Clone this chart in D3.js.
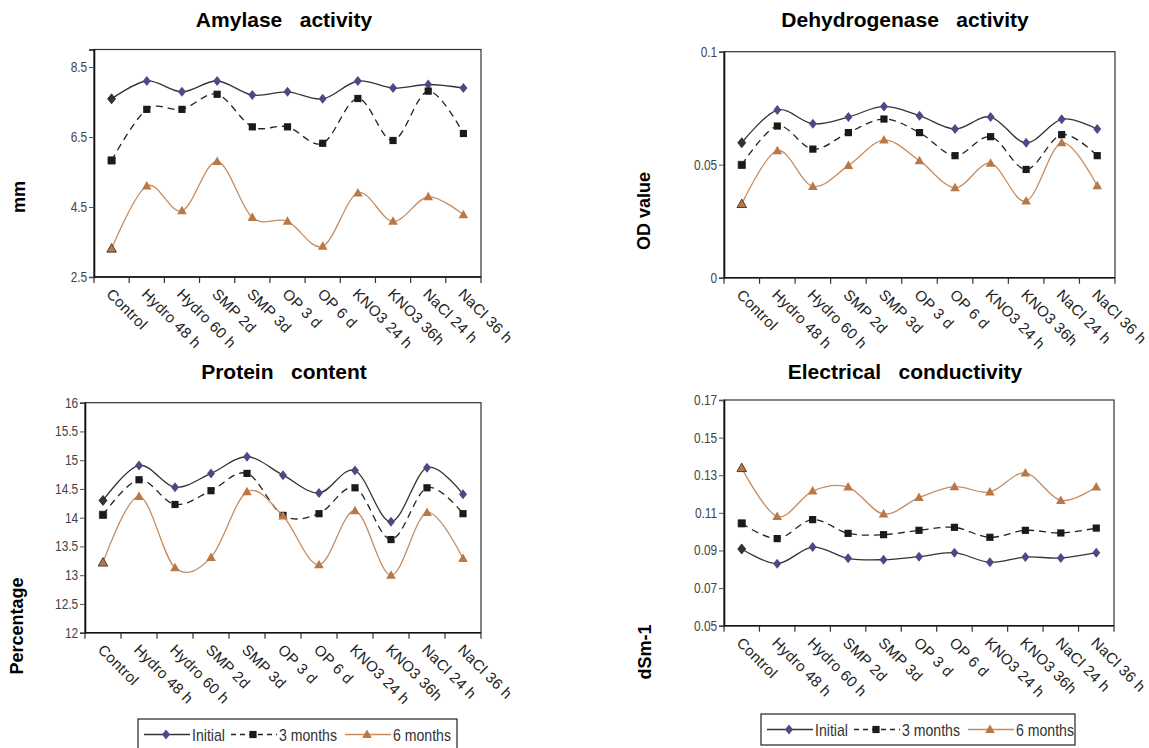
<!DOCTYPE html>
<html>
<head>
<meta charset="utf-8">
<script src="https://cdn.jsdelivr.net/npm/d3@7"></script>
<style>
body { margin: 0; background: #fff; }
text { font-family: Arial, "Liberation Sans", sans-serif; }
.tick-label { font-size: 14px; fill: #444; }
.legend-label { font-size: 17px; fill: #333; }
</style>
</head>
<body>
<script>
var categories = ["Control", "Hydro 48 h", "Hydro 60 h", "SMP 2d", "SMP 3d", "OP 3 d", "OP 6 d", "KNO3 24 h", "KNO3 36h", "NaCl 24 h", "NaCl 36 h"];
var seriesNames = ["Initial", "3 months", "6 months"];

// amylase activity (mm)
var amylaseInitial = [7.59, 8.1, 7.79, 8.1, 7.7, 7.79, 7.59, 8.1, 7.9, 8.0, 7.9];
var amylase3m = [5.83, 7.29, 7.29, 7.72, 6.79, 6.79, 6.32, 7.6, 6.4, 7.81, 6.6];
var amylase6m = [3.31, 5.1, 4.39, 5.8, 4.2, 4.09, 3.38, 4.9, 4.09, 4.79, 4.28];
var amylaseTicks = [2.5, 4.5, 6.5, 8.5];

// dehydrogenase activity (OD value)
var dehydInitial = [0.0597, 0.0742, 0.0681, 0.0711, 0.0758, 0.0717, 0.0658, 0.0711, 0.0597, 0.0701, 0.0658];
var dehyd3m = [0.0499, 0.0671, 0.0569, 0.0642, 0.0702, 0.0642, 0.054, 0.0624, 0.0479, 0.0633, 0.054];
var dehyd6m = [0.0326, 0.0562, 0.0404, 0.0496, 0.0609, 0.0518, 0.0398, 0.0506, 0.0339, 0.0597, 0.0407];
var dehydTicks = [0, 0.05, 0.1];

// protein content (%)
var proteinInitial = [14.3, 14.91, 14.53, 14.77, 15.06, 14.74, 14.43, 14.82, 13.93, 14.87, 14.41];
var protein3m = [14.05, 14.66, 14.23, 14.47, 14.77, 14.04, 14.07, 14.52, 13.62, 14.52, 14.07];
var protein6m = [13.22, 14.37, 13.13, 13.31, 14.45, 14.03, 13.18, 14.12, 13.0, 14.09, 13.29];
var proteinTicks = [12, 12.5, 13, 13.5, 14, 14.5, 15, 15.5, 16];

// electrical conductivity (dSm-1)
var ecInitial = [0.0908, 0.083, 0.0918, 0.0858, 0.0851, 0.0867, 0.0888, 0.0837, 0.0865, 0.086, 0.0888];
var ec3m = [0.1044, 0.0963, 0.1064, 0.0991, 0.0984, 0.1007, 0.1023, 0.097, 0.1007, 0.0993, 0.1019];
var ec6m = [0.1338, 0.1081, 0.1216, 0.1237, 0.1094, 0.1181, 0.1239, 0.1211, 0.1312, 0.1166, 0.1237];
var ecTicks = [0.05, 0.07, 0.09, 0.11, 0.13, 0.15, 0.17];

var diamond = {
    draw: function(ctx, size) {
        ctx.moveTo(0, -5); ctx.lineTo(4, 0); ctx.lineTo(0, 5); ctx.lineTo(-4, 0); ctx.closePath();
    }
};
var square = {
    draw: function(ctx, size) {
        ctx.moveTo(-3.6, -3.6); ctx.lineTo(3.6, -3.6); ctx.lineTo(3.6, 3.6); ctx.lineTo(-3.6, 3.6); ctx.closePath();
    }
};
var triangle = {
    draw: function(ctx, size) {
        ctx.moveTo(0, -5); ctx.lineTo(4.8, 3.5); ctx.lineTo(-4.8, 3.5); ctx.closePath();
    }
};

var styles = [
    { line: "#333", dash: null, legendDash: null, shape: diamond, fill: "#4b4a86" },
    { line: "#222", dash: "7,5", legendDash: "5,4", shape: square, fill: "#1a1a1a" },
    { line: "#c48d62", dash: null, legendDash: null, shape: triangle, fill: "#b97845" }
];
// widths of the condensed legend labels
var legendTextWidths = [33, 58, 58];

var panels = [
    { title: "Amylase   activity", tx: 284, ty: 27, ylabel: "mm", lx: 25, ly: 197,
      box: [94, 49.5, 481, 277], domain: [2.5, 9], ticks: amylaseTicks, fmt: d3.format(".1f"),
      series: [amylaseInitial, amylase3m, amylase6m], legend: null },
    { title: "Dehydrogenase   activity", tx: 905, ty: 27, ylabel: "OD value", lx: 650, ly: 211,
      box: [724, 51.7, 1115, 277.7], domain: [0, 0.1], ticks: dehydTicks, fmt: function(d) { return d3.format("")(d); },
      series: [dehydInitial, dehyd3m, dehyd6m], legend: null },
    { title: "Protein   content", tx: 284, ty: 379, ylabel: "Percentage", lx: 23, ly: 626,
      box: [85, 402.7, 481, 632.7], domain: [12, 16], ticks: proteinTicks, fmt: function(d) { return d3.format("")(d); },
      series: [proteinInitial, protein3m, protein6m], legend: [138, 719, 319, 34] },
    { title: "Electrical   conductivity", tx: 905, ty: 379, ylabel: "dSm-1", lx: 651, ly: 652,
      box: [724, 400, 1114, 625.7], domain: [0.05, 0.17], ticks: ecTicks, fmt: d3.format(".2f"),
      series: [ecInitial, ec3m, ec6m], legend: [761, 714, 314, 31] }
];

var svg = d3.select("body")
    .append("svg")
    .attr("width", 1149)
    .attr("height", 748);

panels.forEach(function(p) {
    var left = p.box[0], top = p.box[1], right = p.box[2], bottom = p.box[3];

    var x = d3.scaleBand().domain(categories).range([left, right]);
    var y = d3.scaleLinear().domain(p.domain).range([bottom, top]);

    var g = svg.append("g");

    g.append("text")
        .attr("x", p.tx)
        .attr("y", p.ty)
        .attr("text-anchor", "middle")
        .style("font-size", "21px")
        .style("font-weight", "bold")
        .style("white-space", "pre")
        .attr("fill", "#000")
        .text(p.title);

    g.append("text")
        .attr("transform", "translate(" + p.lx + "," + p.ly + ") rotate(-90)")
        .attr("text-anchor", "middle")
        .style("font-size", "18px")
        .style("font-weight", "bold")
        .attr("fill", "#000")
        .text(p.ylabel);

    // frame
    g.append("rect")
        .attr("x", left)
        .attr("y", top)
        .attr("width", right - left)
        .attr("height", bottom - top)
        .attr("fill", "none")
        .attr("stroke", "#333")
        .attr("stroke-width", 1.2);

    // y axis
    var yAxis = g.append("g")
        .attr("transform", "translate(" + left + ",0)")
        .call(d3.axisLeft(y).tickValues(p.ticks).tickSize(5).tickPadding(3).tickFormat(p.fmt));
    yAxis.select(".domain").attr("stroke", "#111").attr("stroke-width", 1.6);
    yAxis.selectAll(".tick line").attr("stroke", "#555");
    yAxis.selectAll(".tick text")
        .attr("class", "tick-label")
        .attr("fill", null)
        .attr("font-family", null)
        .attr("font-size", null)
        .attr("transform", "scale(0.85,1)");

    // x axis: boundary ticks + rotated labels
    var bounds = categories.map(function(c) { return x(c); }).concat([right]);
    g.append("line")
        .attr("x1", left).attr("x2", right)
        .attr("y1", bottom).attr("y2", bottom)
        .attr("stroke", "#111")
        .attr("stroke-width", 1.6);
    g.selectAll(".xtick")
        .data(bounds)
        .enter()
        .append("line")
        .attr("class", "xtick")
        .attr("x1", function(d) { return d; })
        .attr("x2", function(d) { return d; })
        .attr("y1", bottom)
        .attr("y2", bottom + 6)
        .attr("stroke", "#333")
        .attr("stroke-width", 1.2);
    g.selectAll(".xlabel")
        .data(categories)
        .enter()
        .append("text")
        .attr("class", "xlabel")
        .attr("transform", function(d) {
            return "translate(" + (x(d) + x.bandwidth() / 2 - 6) + "," + (bottom + 18) + ") rotate(45)";
        })
        .style("font-size", "15px")
        .style("letter-spacing", "0.3px")
        .attr("fill", "#222")
        .text(function(d) { return d; });

    // series
    p.series.forEach(function(vals, si) {
        var st = styles[si];
        var pts = vals.map(function(v, i) { return [x(categories[i]) + x.bandwidth() / 2, y(v)]; });
        g.append("path")
            .datum(pts)
            .attr("d", d3.line().curve(d3.curveCardinal.tension(0)))
            .attr("fill", "none")
            .attr("stroke", st.line)
            .attr("stroke-width", 1.3)
            .attr("stroke-dasharray", st.dash);
        g.selectAll(".m" + si)
            .data(pts)
            .enter()
            .append("path")
            .attr("class", "m" + si)
            .attr("transform", function(d) { return "translate(" + d[0] + "," + d[1] + ")"; })
            .attr("d", d3.symbol().type(st.shape))
            .attr("fill", function(d, i) { return (i === 0 && si === 0) ? "#333" : st.fill; })
            .attr("stroke", function(d, i) { return i === 0 ? "#222" : "none"; })
            .attr("stroke-width", 0.8);
    });

    // legend
    if (p.legend) {
        var L = p.legend;
        var lg = g.append("g").attr("transform", "translate(" + L[0] + "," + L[1] + ")");
        lg.append("rect")
            .attr("width", L[2])
            .attr("height", L[3])
            .attr("fill", "#fff")
            .attr("stroke", "#222")
            .attr("stroke-width", 1.2);
        var offsets = [6, 93, 207];
        seriesNames.forEach(function(name, si) {
            var st = styles[si];
            var ox = offsets[si], cy = 15.5;
            lg.append("line")
                .attr("x1", ox).attr("x2", ox + 46)
                .attr("y1", cy).attr("y2", cy)
                .attr("stroke", st.line)
                .attr("stroke-width", 1.3)
                .attr("stroke-dasharray", st.legendDash);
            lg.append("path")
                .attr("transform", "translate(" + (ox + 22) + "," + cy + ")")
                .attr("d", d3.symbol().type(st.shape))
                .attr("fill", st.fill);
            lg.append("text")
                .attr("class", "legend-label")
                .attr("x", ox + 48)
                .attr("y", cy)
                .attr("dy", "0.36em")
                .attr("textLength", legendTextWidths[si])
                .attr("lengthAdjust", "spacingAndGlyphs")
                .text(name);
        });
    }
});
</script>
</body>
</html>
